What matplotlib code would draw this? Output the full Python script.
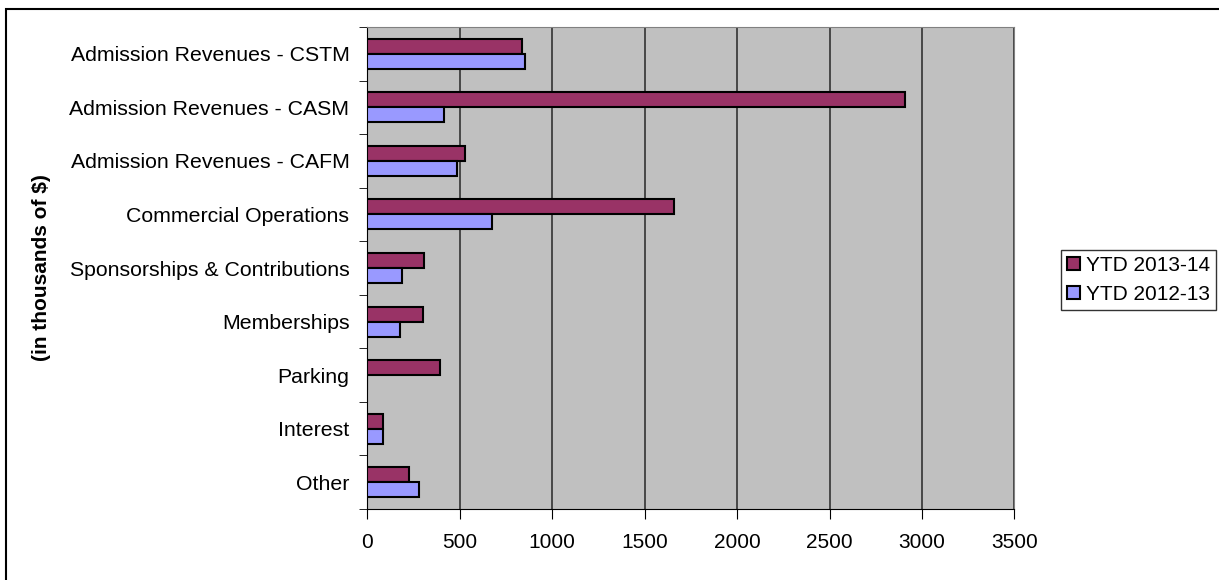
import matplotlib.pyplot as plt
import matplotlib.patches as mpatches
import numpy as np

plt.rcParams['font.family'] = ['Liberation Sans', 'DejaVu Sans']

categories = ['Admission Revenues - CSTM', 'Admission Revenues - CASM',
              'Admission Revenues - CAFM', 'Commercial Operations',
              'Sponsorships & Contributions', 'Memberships', 'Parking',
              'Interest', 'Other']
ytd_2013_14 = [835, 2910, 530, 1658, 306, 299, 391, 82, 223]
ytd_2012_13 = [853, 416, 483, 676, 185, 178, 0, 82, 279]
xticks = [0, 500, 1000, 1500, 2000, 2500, 3000, 3500]

fig = plt.figure(figsize=(12.19, 5.80), dpi=100)
# outer chart border (left and top edges visible)
fig.patches.append(mpatches.Rectangle((6 / 1219, -0.1), 1.2, 1.1 - 9 / 580,
                                      transform=fig.transFigure, fill=False,
                                      edgecolor='black', linewidth=1.5))
ax = fig.add_axes([367.5 / 1219, 1 - 509 / 580, (1014.3 - 367.5) / 1219, (509 - 27) / 580])
ax.set_facecolor('#C0C0C0')

y = np.arange(len(categories))
h = 0.28
ax.barh(y - h / 2, ytd_2013_14, height=h, color='#993366', edgecolor='black',
        linewidth=1.5, label='YTD 2013-14', zorder=3)
ax.barh(y + h / 2, ytd_2012_13, height=h, color='#9999FF', edgecolor='black',
        linewidth=1.5, label='YTD 2012-13', zorder=3)

ax.set_xlim(0, 3500)
ax.set_ylim(len(categories) - 0.5, -0.5)
ax.set_xticks(xticks)
ax.tick_params(axis='x', labelsize=15, length=7, direction='out', pad=10)
ax.set_yticks(y)
ax.set_yticklabels(categories)
ax.tick_params(axis='y', which='major', length=0, labelsize=15.3, pad=13)
ax.set_yticks(np.arange(len(categories) + 1) - 0.5, minor=True)
ax.tick_params(axis='y', which='minor', length=6, direction='out')
ax.xaxis.grid(True, color='#333333', linewidth=1.2, zorder=1)
ax.set_axisbelow(True)

for side in ['top', 'right']:
    ax.spines[side].set_color('#808080')
ax.spines['left'].set_color('black')
ax.spines['bottom'].set_color('black')

fig.text(42 / 1219, 1 - 268 / 580, '(in thousands of $)', rotation=90,
         fontsize=15, fontweight='bold', ha='center', va='center')

leg = ax.legend(loc='center left', bbox_to_anchor=(1061 / 1219, 1 - 280 / 580),
                bbox_transform=fig.transFigure, fontsize=15, frameon=True,
                fancybox=False, edgecolor='black', handlelength=0.6,
                handleheight=0.6, handletextpad=0.3, borderpad=0.3,
                borderaxespad=0, labelspacing=0.5)
leg.get_frame().set_linewidth(1.0)

fig.savefig('out.png', dpi=100)
